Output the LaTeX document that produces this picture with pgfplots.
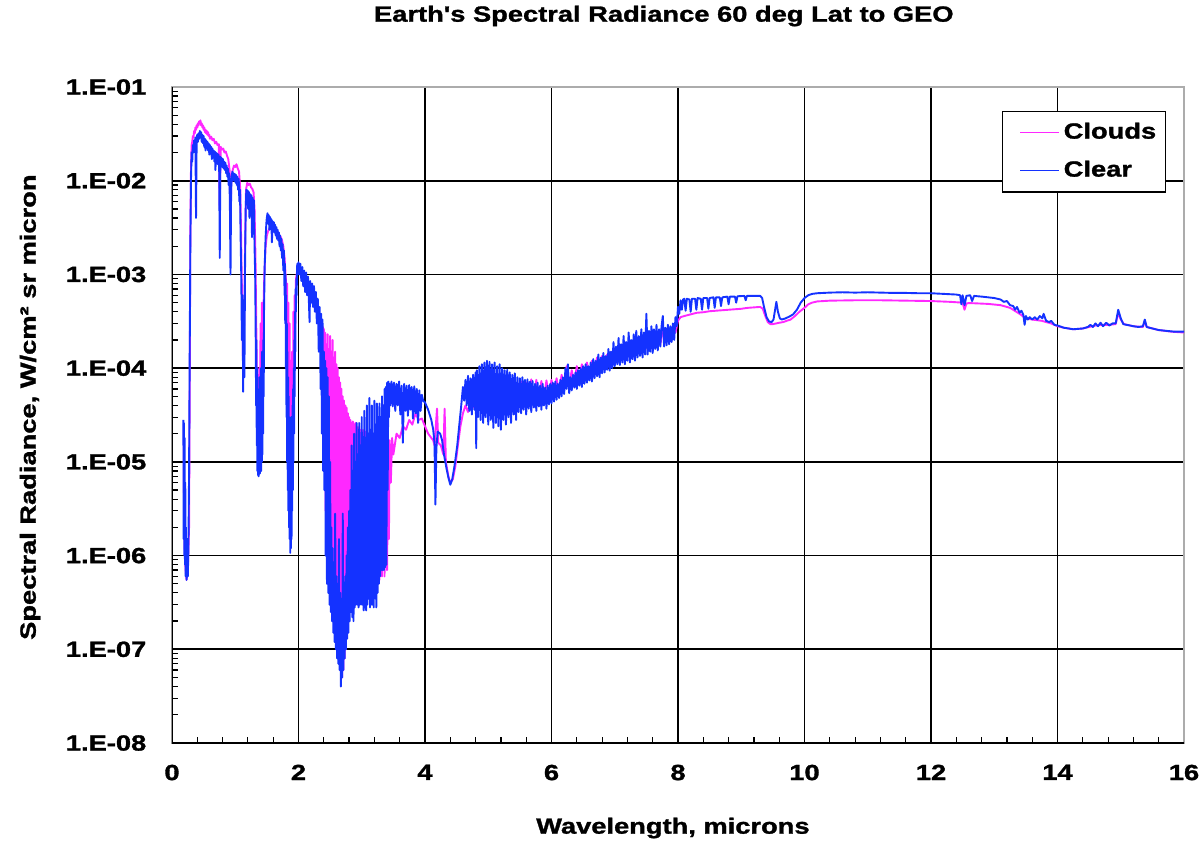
\documentclass[border=0pt]{standalone}
\usepackage{pgfplots}
\pgfplotsset{compat=1.18}
\usepackage{fontspec}
\setmainfont{Liberation Sans}[BoldFeatures={FakeBold=1.2}]
\usepackage{graphicx}
% wide-set lettering used throughout the chart
\newcommand\W[1]{\scalebox{1.24}[1]{#1}}
\definecolor{clouds}{RGB}{255,40,255}
\definecolor{clear}{RGB}{20,50,255}

\begin{document}
\fontsize{11}{13.2}\selectfont\bfseries
\begin{tikzpicture}[x=1pt,y=1pt]
\path[use as bounding box] (-86,-51) rectangle (515.5,371.5);
\begin{axis}[
  at={(0,0)}, anchor=south west,
  scale only axis, width=506pt, height=328pt,
  xmin=0, xmax=16, ymin=1e-8, ymax=1e-1, ymode=log,
  xtick={0,2,4,6,8,10,12,14,16},
  xticklabels={\W{0},\W{2},\W{4},\W{6},\W{8},\W{10},\W{12},\W{14},\W{16}},
  minor x tick num=4,
  ytick={1e-8,1e-7,1e-6,1e-5,1e-4,1e-3,1e-2,1e-1},
  yticklabels={\W{1.E-08},\W{1.E-07},\W{1.E-06},\W{1.E-05},\W{1.E-04},\W{1.E-03},\W{1.E-02},\W{1.E-01}},
  minor ytick={2e-8,3e-8,4e-8,5e-8,6e-8,7e-8,8e-8,9e-8,
               2e-7,3e-7,4e-7,5e-7,6e-7,7e-7,8e-7,9e-7,
               2e-6,3e-6,4e-6,5e-6,6e-6,7e-6,8e-6,9e-6,
               2e-5,3e-5,4e-5,5e-5,6e-5,7e-5,8e-5,9e-5,
               2e-4,3e-4,4e-4,5e-4,6e-4,7e-4,8e-4,9e-4,
               2e-3,3e-3,4e-3,5e-3,6e-3,7e-3,8e-3,9e-3,
               2e-2,3e-2,4e-2,5e-2,6e-2,7e-2,8e-2,9e-2},
  tick pos=left, tick align=inside,
  minor tick length=3pt, major tick length=3pt,
  tick style={black, line width=0.6pt},
  grid=major, major grid style={black, line width=0.8pt},
  axis line style={draw=gray!65, line width=0.7pt},
  yticklabel style={xshift=-9pt},
  xticklabel style={yshift=-7pt},
  title={\W{Earth\textquotesingle s Spectral Radiance 60 deg Lat to GEO}},
  title style={at={(axis description cs:0.486,1.0899)}, anchor=center},
  xlabel={\W{Wavelength, microns}},
  xlabel style={at={(axis description cs:0.495,-0.1296)}, anchor=center},
  ylabel={\W{Spectral Radiance, W/cm² sr micron}},
  ylabel style={at={(axis description cs:-0.1403,0.512)}, anchor=center},
  legend cell align=left,
  legend style={at={(axis description cs:0.982,0.964)}, anchor=north east,
    draw=black, line width=0.6pt, fill=white,
    inner xsep=4.5pt, inner ysep=5.7pt, row sep=9pt, column sep=2pt,
    nodes={inner sep=0pt, text height=8pt, text depth=2pt}},
  legend image code/.code={\path (-4pt,0pt); \draw[#1, line width=0.6pt] (0pt,0pt) -- (19.5pt,0pt);},
]

% Cloudy scene
\addplot[clouds, line width=0.95pt, line join=round] coordinates {
(0.185,2.5e-5)(0.190,3e-6)(0.200,1.2e-6)(0.215,7e-7)(0.230,5.5e-7)(0.250,7e-7)(0.270,2e-6)(0.280,6e-5)
(0.290,2.5e-3)(0.300,1.3e-2)(0.310,2.4e-2)(0.320,2.6e-2)(0.330,3.0e-2)(0.340,2.9e-2)(0.350,3.4e-2)
(0.360,3.2e-2)(0.370,3.7e-2)(0.380,3.5e-2)(0.390,3.9e-2)(0.400,3.7e-2)(0.410,4.1e-2)(0.420,3.9e-2)
(0.430,4.3e-2)(0.440,4.1e-2)(0.450,4.4e-2)(0.460,3.9e-2)(0.470,4.1e-2)(0.480,3.7e-2)(0.490,3.9e-2)
(0.500,3.5e-2)(0.510,3.7e-2)(0.520,3.3e-2)(0.530,3.5e-2)(0.540,3.2e-2)(0.550,3.4e-2)(0.560,3.1e-2)
(0.570,3.3e-2)(0.580,3.0e-2)(0.590,3.1e-2)(0.600,2.8e-2)(0.620,2.95e-2)(0.640,2.7e-2)(0.660,2.8e-2)
(0.680,2.5e-2)(0.700,2.6e-2)(0.720,2.4e-2)(0.740,2.45e-2)(0.755,5e-3)(0.770,2.3e-2)(0.790,2.15e-2)
(0.810,2.2e-2)(0.830,2.0e-2)(0.850,2.05e-2)(0.870,1.85e-2)(0.890,1.7e-2)(0.910,1.3e-2)(0.925,4e-3)
(0.940,1.1e-2)(0.960,1.3e-2)(0.980,1.45e-2)(1.000,1.4e-2)(1.020,1.5e-2)(1.040,1.35e-2)(1.060,1.25e-2)
(1.080,8e-3)(1.095,2e-3)(1.110,4e-4)(1.125,1e-4)(1.140,3e-4)(1.155,2e-3)(1.170,8e-3)(1.190,9.5e-3)
(1.210,9e-3)(1.230,9.3e-3)(1.250,8.5e-3)(1.270,8.2e-3)(1.290,7.5e-3)(1.305,5e-3)(1.320,1.5e-3)
(1.335,2e-4)(1.350,3e-5)(1.365,1.9e-5)(1.38,1e-4)(1.39,2e-5)(1.40,3e-4)(1.41,2.5e-5)(1.42,5e-4)
(1.43,1e-4)(1.445,4e-4)(1.46,1e-3)(1.48,2e-3)(1.50,2.6e-3)(1.52,2.9e-3)(1.54,3.1e-3)(1.56,3.3e-3)
(1.58,3.2e-3)(1.60,3.3e-3)(1.62,3.1e-3)(1.64,3.0e-3)(1.66,2.9e-3)(1.68,2.8e-3)(1.70,2.6e-3)
(1.72,2.5e-3)(1.74,2.3e-3)(1.76,2.0e-3)(1.78,1.5e-3)(1.80,9e-4)(1.81,4e-4)(1.82,8e-4)(1.83,1.5e-4)
(1.84,5e-4)(1.85,3e-5)(1.86,3e-4)(1.87,8e-6)(1.88,1e-4)(1.89,4.3e-6)(1.90,1.5e-4)(1.91,2e-5)
(1.92,4e-4)(1.93,1e-4)(1.94,6e-4)(1.95,3e-4)(1.96,9e-4)(1.98,1.1e-3)(2.00,1.25e-3)(2.05,1.0e-3)
(2.10,8.5e-4)(2.15,7e-4)(2.20,5.5e-4)(2.25,4.5e-4)(2.30,3.8e-4)(2.35,3e-4)(2.40,2.6e-4)
(2.41,1e-5)(2.42,2.4e-4)(2.43,3e-6)(2.44,1.8e-4)(2.45,1e-6)(2.46,2.3e-4)(2.47,7e-7)(2.48,1.6e-4)
(2.49,5e-7)(2.50,2.2e-4)(2.51,4e-7)(2.52,1.5e-4)(2.53,3.5e-7)(2.54,2.0e-4)(2.55,3e-7)(2.56,1.3e-4)
(2.57,2.5e-7)(2.58,1.5e-4)(2.59,2e-7)(2.60,1.1e-4)(2.61,1.5e-7)(2.62,1.0e-4)(2.63,1e-7)(2.64,8e-5)
(2.65,7e-8)(2.66,7e-5)(2.67,6e-8)(2.68,6e-5)(2.69,5e-8)(2.70,5e-5)(2.71,6e-8)(2.72,4.5e-5)
(2.73,8e-8)(2.74,4e-5)(2.75,1e-7)(2.76,3.8e-5)(2.77,1.5e-7)(2.78,3.3e-5)(2.79,2e-7)(2.80,3e-5)
(2.81,2.5e-7)(2.82,2.8e-5)(2.83,3e-7)(2.84,2.6e-5)(2.85,3.5e-7)(2.86,2.7e-5)(2.87,4e-7)(2.88,2.5e-5)
(2.89,4e-7)(2.90,2.6e-5)(2.91,4.5e-7)(2.92,2.4e-5)(2.93,5e-7)(2.94,2.3e-5)(2.95,5e-7)(2.96,2.4e-5)
(2.97,5e-7)(2.98,2.2e-5)(3.00,5e-7)(3.02,2.2e-5)(3.04,5e-7)(3.06,2.1e-5)(3.08,5e-7)(3.10,2e-5)
(3.12,5e-7)(3.14,2e-5)(3.16,5e-7)(3.18,1.9e-5)(3.20,5e-7)(3.22,1.8e-5)(3.24,5e-7)(3.26,1.8e-5)
(3.28,5.5e-7)(3.30,1.7e-5)(3.32,6e-7)(3.34,1.7e-5)(3.36,6e-7)(3.38,1.6e-5)(3.40,7e-7)(3.42,1.6e-5)
(3.43,1.5e-6)(3.44,1.7e-5)(3.46,6e-6)(3.48,1.8e-5)(3.50,1.2e-5)(3.55,2e-5)(3.60,1.8e-5)(3.65,2.4e-5)
(3.70,2.2e-5)(3.75,2.8e-5)(3.80,2.5e-5)(3.85,3.3e-5)(3.90,2.8e-5)(3.95,2.9e-5)(4.00,2.4e-5)
(4.05,2.0e-5)(4.10,1.8e-5)(4.13,1.7e-5)(4.15,1.5e-5)(4.19,3.7e-5)(4.21,1.6e-5)(4.25,1.5e-5)
(4.29,1.2e-5)(4.31,3.7e-5)(4.33,1.0e-5)(4.37,7e-6)(4.40,6e-6)(4.44,6.5e-6)(4.48,9e-6)(4.52,1.5e-5)
(4.56,2.4e-5)(4.60,3.3e-5)(4.64,4.0e-5)(4.68,3.4e-5)(4.72,4.6e-5)(4.76,3.8e-5)(4.80,5e-5)
(4.84,4e-5)(4.88,7e-5)(4.92,3.8e-5)(4.96,8e-5)(5.00,3.5e-5)(5.04,8e-5)(5.08,3.2e-5)(5.12,7.5e-5)
(5.16,3.3e-5)(5.20,7e-5)(5.24,3.5e-5)(5.28,7e-5)(5.32,3.6e-5)(5.36,7e-5)(5.40,3.8e-5)(5.44,6.8e-5)
(5.48,4e-5)(5.52,7.2e-5)(5.56,4.2e-5)(5.60,7e-5)(5.64,4.3e-5)(5.68,7.6e-5)(5.72,4.5e-5)(5.76,7.5e-5)
(5.80,4.6e-5)(5.84,7.3e-5)(5.88,4.8e-5)(5.92,7.4e-5)(5.96,5e-5)(6.00,7.5e-5)(6.04,5.2e-5)(6.08,7.8e-5)
(6.12,5.5e-5)(6.16,8.5e-5)(6.20,6e-5)(6.24,1.05e-4)(6.28,6.5e-5)(6.32,9.5e-5)(6.36,7e-5)(6.40,1.05e-4)
(6.44,7.5e-5)(6.48,1.1e-4)(6.52,8e-5)(6.56,1.15e-4)(6.60,8.5e-5)(6.64,1.2e-4)(6.68,9e-5)(6.72,1.3e-4)
(6.76,9.5e-5)(6.80,1.35e-4)(6.84,1.0e-4)(6.88,1.4e-4)(6.92,1.05e-4)(6.96,1.5e-4)(7.00,1.1e-4)
(7.04,1.6e-4)(7.08,1.2e-4)(7.12,1.7e-4)(7.16,1.25e-4)(7.20,1.8e-4)(7.24,1.3e-4)(7.28,1.9e-4)
(7.32,1.4e-4)(7.36,2.0e-4)(7.40,1.5e-4)(7.44,2.1e-4)(7.48,1.55e-4)(7.52,2.2e-4)(7.56,1.6e-4)
(7.60,2.3e-4)(7.64,1.7e-4)(7.68,2.4e-4)(7.72,1.8e-4)(7.76,2.5e-4)(7.80,1.9e-4)(7.84,2.6e-4)
(7.88,2.0e-4)(7.92,2.7e-4)(7.96,2.4e-4)(8.00,3.2e-4)(8.04,3.5e-4)(8.1,3.6e-4)(8.2,3.75e-4)
(8.3,3.9e-4)(8.4,3.95e-4)(8.5,4.05e-4)(8.6,4.1e-4)(8.7,4.15e-4)(8.8,4.2e-4)(8.9,4.25e-4)(9.0,4.3e-4)
(9.1,4.4e-4)(9.2,4.45e-4)(9.3,4.5e-4)(9.34,4.3e-4)(9.38,3.6e-4)(9.42,3.1e-4)(9.46,2.95e-4)
(9.50,2.95e-4)(9.55,3.0e-4)(9.60,3.05e-4)(9.66,3.1e-4)(9.72,3.2e-4)(9.78,3.3e-4)(9.85,3.6e-4)
(9.92,4.0e-4)(10.0,4.4e-4)(10.06,4.8e-4)(10.12,5.0e-4)(10.2,5.15e-4)(10.4,5.25e-4)(10.8,5.3e-4)
(11.2,5.3e-4)(11.6,5.25e-4)(12.0,5.2e-4)(12.3,5.1e-4)(12.5,5.0e-4)(12.53,4.2e-4)(12.56,4.9e-4)
(12.6,4.95e-4)(12.9,4.85e-4)(13.1,4.7e-4)(13.25,4.4e-4)(13.4,3.8e-4)(13.46,3.55e-4)(13.5,3.4e-4)
(13.6,3.3e-4)(13.75,3.2e-4)(13.9,3.0e-4)(14.0,2.8e-4)(14.1,2.7e-4)(14.25,2.6e-4)(14.4,2.65e-4)
(14.5,2.75e-4)(14.6,2.85e-4)(14.7,2.9e-4)(14.8,2.9e-4)(14.92,2.95e-4)(14.96,3.9e-4)(15.0,3.3e-4)
(15.05,2.95e-4)(15.2,2.8e-4)(15.35,2.75e-4)(15.38,3.2e-4)(15.41,2.75e-4)(15.6,2.55e-4)(15.8,2.45e-4)
(16.0,2.4e-4)
};
\addlegendentry{\W{Clouds}}

% Clear scene
\addplot[clear, line width=0.95pt, line join=round] coordinates {
(0.180,2.8e-5)(0.185,1.5e-6)(0.190,2.6e-5)(0.195,1.0e-6)(0.200,1.8e-5)(0.205,8e-7)(0.210,6e-6)
(0.215,6e-7)(0.220,2e-6)(0.230,5.5e-7)(0.240,1.5e-6)(0.250,6e-7)(0.260,1.2e-6)(0.270,8e-6)
(0.280,1.5e-4)(0.290,2e-3)(0.300,1.0e-2)(0.310,2.0e-2)(0.320,1.6e-2)(0.330,2.4e-2)(0.340,2.0e-2)
(0.350,2.7e-2)(0.360,2.2e-2)(0.370,2.9e-2)(0.380,4.0e-3)(0.390,2.8e-2)(0.400,3.1e-2)(0.410,2.6e-2)
(0.420,3.2e-2)(0.430,2.8e-2)(0.440,3.4e-2)(0.450,2.9e-2)(0.460,3.3e-2)(0.470,2.6e-2)(0.480,3.1e-2)
(0.490,2.5e-2)(0.500,3.0e-2)(0.510,2.3e-2)(0.520,2.8e-2)(0.530,2.1e-2)(0.540,2.7e-2)(0.550,2.3e-2)
(0.560,2.6e-2)(0.570,2.1e-2)(0.580,2.5e-2)(0.590,1.9e-2)(0.600,2.4e-2)(0.610,2.0e-2)(0.620,2.3e-2)
(0.630,1.7e-2)(0.640,2.2e-2)(0.650,1.8e-2)(0.660,2.1e-2)(0.670,1.6e-2)(0.680,2.05e-2)(0.687,1.3e-2)
(0.695,2.0e-2)(0.705,1.6e-2)(0.715,1.95e-2)(0.725,1.5e-2)(0.735,1.9e-2)(0.745,1.7e-2)(0.755,1.5e-3)
(0.765,1.8e-2)(0.775,1.5e-2)(0.785,1.75e-2)(0.795,1.4e-2)(0.805,1.7e-2)(0.815,1.35e-2)(0.825,1.6e-2)
(0.835,1.3e-2)(0.845,1.55e-2)(0.855,1.2e-2)(0.865,1.45e-2)(0.875,1.1e-2)(0.885,1.35e-2)(0.895,9e-3)
(0.905,1.2e-2)(0.915,6e-3)(0.925,1.0e-3)(0.935,8e-3)(0.945,1.1e-2)(0.955,1.25e-2)(0.965,1.0e-2)
(0.975,1.2e-2)(0.985,1.0e-2)(0.995,1.18e-2)(1.005,9.5e-3)(1.015,1.15e-2)(1.025,9e-3)(1.035,1.1e-2)
(1.045,8e-3)(1.055,1.05e-2)(1.065,6e-3)(1.075,8e-3)(1.085,2.5e-3)(1.095,1e-3)(1.105,2e-4)
(1.115,6e-4)(1.125,5.6e-5)(1.135,4e-4)(1.145,8e-5)(1.155,1.2e-3)(1.165,5e-3)(1.175,8e-3)
(1.185,6e-3)(1.195,7.9e-3)(1.205,5e-3)(1.215,7.6e-3)(1.225,4e-3)(1.235,7.2e-3)(1.245,5.5e-3)
(1.255,7.0e-3)(1.265,2.5e-3)(1.275,6.6e-3)(1.285,4.5e-3)(1.295,6.2e-3)(1.305,2e-3)(1.315,1e-3)
(1.322,3e-4)(1.33,4e-5)(1.335,2e-4)(1.34,1.5e-5)(1.345,1e-4)(1.35,8e-6)(1.355,6e-5)(1.36,7.2e-6)
(1.365,3e-5)(1.37,7e-6)(1.375,5e-5)(1.38,8e-6)(1.385,8e-5)(1.39,7.5e-6)(1.395,4e-5)(1.40,9e-6)
(1.405,1e-4)(1.41,8e-6)(1.415,6e-5)(1.42,1e-5)(1.425,1.5e-4)(1.43,1.2e-5)(1.435,8e-5)(1.44,2e-5)
(1.445,2e-4)(1.45,5e-5)(1.455,4e-4)(1.465,1.2e-3)
(1.480,2.5e-3)(1.495,3.8e-3)(1.510,4.5e-3)(1.520,3.5e-3)(1.530,4.3e-3)(1.540,3.0e-3)(1.550,4.1e-3)
(1.560,3.3e-3)(1.570,3.9e-3)(1.580,2.2e-3)(1.590,3.7e-3)(1.600,3.1e-3)(1.610,3.6e-3)(1.620,2.8e-3)
(1.630,3.4e-3)(1.640,2.6e-3)(1.650,3.2e-3)(1.660,2.4e-3)(1.670,3.0e-3)(1.680,2.3e-3)(1.690,2.8e-3)
(1.700,2.0e-3)(1.710,2.6e-3)(1.720,1.8e-3)(1.730,2.4e-3)(1.740,1.5e-3)(1.750,2.1e-3)(1.760,1.1e-3)
(1.770,1.8e-3)(1.780,6e-4)(1.785,1.3e-3)(1.79,3e-4)(1.795,1e-3)(1.80,1e-4)(1.805,6e-4)(1.81,3e-5)
(1.815,3e-4)(1.82,1e-5)(1.825,1.5e-4)(1.83,5e-6)(1.835,8e-5)(1.84,3e-6)(1.845,5e-5)(1.85,2e-6)
(1.855,3e-5)(1.86,1.5e-6)(1.865,2e-5)(1.87,1.07e-6)(1.875,1.5e-5)(1.88,1.2e-6)(1.885,3e-5)
(1.89,1.5e-6)(1.895,2e-5)(1.90,3e-6)(1.905,4e-5)(1.91,5e-6)(1.915,6e-5)(1.92,1e-5)(1.925,1e-4)
(1.93,2e-5)(1.935,2e-4)(1.94,5e-5)(1.945,4e-4)(1.95,1.5e-4)(1.955,7e-4)(1.96,4e-4)(1.965,9e-4)
(1.97,6e-4)(1.980,1.3e-3)(1.990,1.0e-3)(2.000,1.35e-3)(2.015,1.0e-3)(2.03,1.3e-3)(2.045,8.5e-4)(2.06,1.2e-3)
(2.075,7.5e-4)(2.09,1.1e-3)(2.105,6.5e-4)(2.12,1.05e-3)(2.135,6e-4)(2.15,9.5e-4)(2.165,5e-4)
(2.175,3.1e-4)(2.185,8.5e-4)(2.20,5e-4)(2.215,8e-4)(2.23,4.5e-4)(2.245,7.5e-4)(2.26,4e-4)
(2.275,6.5e-4)(2.29,3e-4)(2.305,5.5e-4)(2.32,1.5e-4)(2.335,4.5e-4)(2.35,6e-5)(2.36,3.8e-4)
(2.37,2e-5)(2.38,3.3e-4)(2.39,8e-6)(2.40,1.5e-4)(2.41,5e-6)(2.42,1.2e-4)(2.43,1e-6)(2.44,1e-4)
(2.45,5e-7)(2.46,8e-5)(2.47,4e-7)(2.48,5e-5)(2.49,3e-7)(2.50,1e-5)(2.51,2.5e-7)(2.52,2e-6)
(2.53,2e-7)(2.54,1.2e-6)(2.55,1.5e-7)(2.56,8e-7)(2.57,1.2e-7)(2.58,2.8e-6)(2.59,1e-7)(2.60,6e-7)
(2.61,8e-8)(2.62,5e-7)(2.63,7e-8)(2.64,1.5e-6)(2.65,6e-8)(2.66,4e-7)(2.67,4e-8)(2.68,3e-7)
(2.69,5e-8)(2.70,2.8e-6)(2.71,6e-8)(2.72,4e-7)(2.73,8e-8)(2.74,6e-7)(2.75,1e-7)(2.76,1e-6)
(2.77,1.3e-7)(2.78,2e-6)(2.79,1.5e-7)(2.80,3e-6)(2.81,2e-7)(2.82,5e-6)(2.83,2.5e-7)(2.84,1.5e-5)
(2.85,2.2e-7)(2.86,8e-6)(2.87,2e-7)(2.88,2e-5)(2.89,2.8e-7)(2.90,1e-5)(2.91,3e-7)(2.92,2.6e-5)
(2.93,3e-7)(2.94,1.2e-5)(2.95,2.8e-7)(2.96,2.6e-5)(2.97,3e-7)(2.98,1.5e-5)(2.99,3e-7)(3.00,3e-5)
(3.01,3e-7)(3.02,1.5e-5)(3.03,2.6e-7)(3.04,3.5e-5)(3.05,2.8e-7)(3.06,1.8e-5)(3.07,2.6e-7)(3.08,4e-5)
(3.09,3e-7)(3.10,2e-5)(3.11,3.5e-7)(3.12,4.8e-5)(3.13,2.8e-7)(3.14,2.2e-5)(3.15,3e-7)(3.16,4e-5)
(3.17,3e-7)(3.18,2e-5)(3.19,2.8e-7)(3.20,4.5e-5)(3.21,3.5e-7)(3.22,2.5e-5)(3.23,2.8e-7)(3.24,4.2e-5)
(3.25,4e-7)(3.26,3e-5)(3.27,5e-7)(3.28,4.2e-5)(3.29,6e-7)(3.30,3e-5)(3.31,7e-7)(3.32,5e-5)
(3.33,7e-7)(3.34,4e-5)(3.35,7e-7)(3.36,6e-5)(3.37,7.5e-7)(3.38,6.3e-5)(3.39,8e-7)(3.40,7e-5)
(3.41,5e-6)(3.42,7.2e-5)(3.43,3e-5)(3.44,6.8e-5)(3.45,4e-5)(3.47,7.2e-5)(3.49,3.9e-5)(3.51,7e-5)
(3.53,3.5e-5)(3.55,6.8e-5)(3.57,4e-5)(3.59,7.2e-5)(3.61,3.2e-5)(3.63,6.5e-5)(3.65,1.6e-5)(3.67,6.8e-5)
(3.69,3.5e-5)(3.71,6.5e-5)(3.73,3.1e-5)(3.75,6.6e-5)(3.77,3.6e-5)(3.79,6.3e-5)(3.81,2.9e-5)
(3.83,6.4e-5)(3.85,3.3e-5)(3.87,6.0e-5)(3.89,2.6e-5)(3.91,5.8e-5)(3.93,3.5e-5)(3.95,5.2e-5)
(3.97,4.5e-5)(4.00,4.3e-5)(4.05,3.6e-5)(4.10,2.8e-5)(4.13,2.2e-5)(4.15,1.6e-5)(4.165,3.5e-6)
(4.18,1.4e-5)(4.20,2.1e-5)(4.24,2.0e-5)(4.27,1.7e-5)(4.30,1.2e-5)(4.34,8.5e-6)(4.37,6.8e-6)
(4.40,5.7e-6)(4.43,6.5e-6)(4.46,8.5e-6)(4.48,1.05e-5)(4.51,1.5e-5)(4.54,2.4e-5)(4.57,3.8e-5)
(4.60,6.3e-5)(4.62,4.5e-5)(4.64,7.5e-5)(4.66,4.0e-5)(4.68,8.3e-5)(4.70,3.5e-5)(4.72,7.8e-5)
(4.74,3.2e-5)(4.76,8.5e-5)(4.78,3.6e-5)(4.80,9e-5)(4.81,1.4e-5)(4.82,9.5e-5)(4.84,3.0e-5)
(4.86,1.05e-4)(4.88,2.8e-5)(4.90,1.1e-4)(4.92,2.6e-5)(4.94,1.15e-4)(4.96,3e-5)(4.98,1.2e-4)
(5.00,2.5e-5)(5.02,1.17e-4)(5.04,2.8e-5)(5.06,1.1e-4)(5.08,2.3e-5)(5.10,1.15e-4)(5.12,2.6e-5)
(5.14,1.05e-4)(5.16,2.4e-5)(5.18,1.1e-4)(5.20,2.2e-5)(5.22,1.0e-4)(5.24,2.8e-5)(5.26,9.5e-5)
(5.28,2.5e-5)(5.30,9.6e-5)(5.32,3e-5)(5.34,9e-5)(5.36,2.6e-5)(5.38,8.5e-5)(5.40,3.2e-5)(5.42,8.8e-5)
(5.44,2.8e-5)(5.46,8e-5)(5.48,3.4e-5)(5.50,7.8e-5)(5.52,3.3e-5)(5.54,8e-5)(5.56,3.6e-5)(5.58,7.5e-5)
(5.60,3.2e-5)(5.62,7.6e-5)(5.64,3.7e-5)(5.66,7.2e-5)(5.68,3.4e-5)(5.70,7.3e-5)(5.72,3.8e-5)
(5.74,6.8e-5)(5.76,3.5e-5)(5.78,7e-5)(5.80,3.9e-5)(5.82,6.5e-5)(5.84,3.6e-5)(5.86,6.8e-5)(5.88,4e-5)
(5.90,6.2e-5)(5.92,3.7e-5)(5.94,6.5e-5)(5.96,4.1e-5)(5.98,6.8e-5)(6.00,4.2e-5)(6.02,7e-5)(6.04,4.4e-5)
(6.06,7.2e-5)(6.08,4.6e-5)(6.10,6.8e-5)(6.12,4.8e-5)(6.14,7.5e-5)(6.16,5e-5)(6.18,8e-5)(6.20,5.3e-5)
(6.22,1.0e-4)(6.24,6e-5)(6.26,1.1e-4)(6.28,5.4e-5)(6.30,8e-5)(6.32,5.8e-5)(6.34,8.5e-5)(6.36,6.2e-5)
(6.38,9e-5)(6.40,6e-5)(6.42,9.5e-5)(6.44,6.5e-5)(6.46,1.0e-4)(6.48,6.3e-5)(6.50,1.05e-4)(6.52,6.8e-5)
(6.54,1.1e-4)(6.56,7e-5)(6.58,1.05e-4)(6.60,7.4e-5)(6.62,1.15e-4)(6.64,7.2e-5)(6.66,1.25e-4)
(6.68,7.8e-5)(6.70,1.2e-4)(6.72,8.2e-5)(6.74,1.4e-4)(6.76,8e-5)(6.78,1.3e-4)(6.80,8.8e-5)(6.82,1.45e-4)
(6.84,9e-5)(6.86,1.35e-4)(6.88,9.6e-5)(6.90,1.6e-4)(6.92,9.4e-5)(6.94,1.5e-4)(6.96,1.0e-4)(6.98,1.9e-4)
(7.00,1.05e-4)(7.02,1.7e-4)(7.04,1.1e-4)(7.06,2.1e-4)(7.08,1.08e-4)(7.10,1.8e-4)(7.12,1.15e-4)
(7.14,2.2e-4)(7.16,1.1e-4)(7.18,1.9e-4)(7.20,1.2e-4)(7.22,2.4e-4)(7.24,1.15e-4)(7.26,2.0e-4)
(7.28,1.25e-4)(7.30,2.3e-4)(7.32,1.2e-4)(7.34,2.5e-4)(7.36,1.3e-4)(7.38,2.2e-4)(7.40,1.35e-4)
(7.42,2.6e-4)(7.44,1.3e-4)(7.46,2.4e-4)(7.48,1.4e-4)(7.50,3.8e-4)(7.52,1.4e-4)(7.54,2.5e-4)
(7.56,1.5e-4)(7.58,2.8e-4)(7.60,1.45e-4)(7.62,2.6e-4)(7.64,1.6e-4)(7.66,2.9e-4)(7.68,1.55e-4)
(7.70,2.6e-4)(7.72,1.7e-4)(7.74,2.8e-4)(7.76,3.6e-4)(7.78,1.7e-4)(7.80,2.7e-4)(7.82,1.75e-4)
(7.84,2.9e-4)(7.86,1.8e-4)(7.88,2.8e-4)(7.90,1.9e-4)(7.92,3.0e-4)(7.94,2.0e-4)(7.96,3.5e-4)
(7.98,2.8e-4)(8.00,4.5e-4)(8.02,3.8e-4)(8.04,5.3e-4)(8.06,4.2e-4)(8.08,5.4e-4)(8.10,5.5e-4)
(8.12,4.1e-4)(8.14,5.5e-4)(8.18,5.4e-4)(8.20,4.0e-4)(8.22,5.5e-4)(8.27,5.5e-4)(8.29,4.2e-4)
(8.31,5.6e-4)(8.36,5.5e-4)(8.38,4.2e-4)(8.40,5.6e-4)(8.46,5.6e-4)(8.48,4.3e-4)(8.50,5.6e-4)
(8.56,5.7e-4)(8.58,4.4e-4)(8.60,5.7e-4)(8.66,5.7e-4)(8.68,4.6e-4)(8.70,5.7e-4)(8.78,5.8e-4)
(8.80,4.8e-4)(8.82,5.8e-4)(8.90,5.8e-4)(8.92,5.0e-4)(8.94,5.85e-4)(9.05,5.9e-4)(9.07,5.3e-4)
(9.09,5.9e-4)(9.20,5.9e-4)(9.30,5.9e-4)(9.33,5.6e-4)(9.36,4.5e-4)(9.40,3.5e-4)(9.44,3.15e-4)
(9.48,3.1e-4)(9.51,3.3e-4)(9.53,4.0e-4)(9.555,5.1e-4)(9.58,4.0e-4)(9.61,3.4e-4)(9.64,3.3e-4)
(9.70,3.4e-4)(9.76,3.55e-4)(9.82,3.75e-4)(9.88,4.2e-4)(9.94,5.0e-4)(10.00,5.6e-4)(10.06,6.0e-4)
(10.12,6.2e-4)(10.2,6.3e-4)(10.4,6.4e-4)(10.6,6.45e-4)(10.8,6.4e-4)(11.0,6.45e-4)(11.2,6.4e-4)
(11.4,6.35e-4)(11.6,6.35e-4)(11.8,6.3e-4)(12.0,6.3e-4)(12.2,6.2e-4)(12.4,6.1e-4)(12.46,6.0e-4)
(12.48,4.8e-4)(12.50,6.0e-4)(12.53,4.7e-4)(12.56,5.9e-4)(12.62,6.0e-4)(12.65,5.2e-4)(12.68,5.9e-4)
(12.8,5.8e-4)(12.9,5.7e-4)(13.0,5.6e-4)(13.1,5.4e-4)(13.15,5.1e-4)(13.2,5.2e-4)(13.25,4.7e-4)
(13.3,4.6e-4)(13.33,4.2e-4)(13.36,4.5e-4)(13.4,3.9e-4)(13.43,4.1e-4)(13.46,3.7e-4)(13.48,2.9e-4)
(13.50,3.6e-4)(13.53,3.3e-4)(13.56,3.5e-4)(13.6,3.3e-4)(13.64,3.5e-4)(13.68,3.3e-4)(13.72,3.6e-4)
(13.76,3.4e-4)(13.78,3.8e-4)(13.82,3.2e-4)(13.87,3.1e-4)(13.9,3.2e-4)(13.95,2.9e-4)(14.0,2.85e-4)
(14.1,2.7e-4)(14.25,2.6e-4)(14.4,2.65e-4)(14.48,2.75e-4)(14.52,2.9e-4)(14.56,2.75e-4)(14.6,3.0e-4)
(14.64,2.8e-4)(14.68,3.05e-4)(14.72,2.8e-4)(14.77,3.05e-4)(14.82,2.85e-4)(14.87,3.0e-4)(14.92,3.0e-4)
(14.96,4.2e-4)(15.0,3.4e-4)(15.04,2.95e-4)(15.09,2.9e-4)(15.15,2.85e-4)(15.2,2.8e-4)(15.28,2.75e-4)
(15.35,2.8e-4)(15.38,3.3e-4)(15.41,2.75e-4)(15.5,2.65e-4)(15.6,2.55e-4)(15.72,2.5e-4)(15.85,2.45e-4)
(16.0,2.45e-4)
};
\addlegendentry{\W{Clear}}

% darker left and bottom spines
\draw[black, line width=0.9pt] (rel axis cs:0,1) -- (rel axis cs:0,0) -- (rel axis cs:1,0);
\end{axis}
\end{tikzpicture}
\end{document}
